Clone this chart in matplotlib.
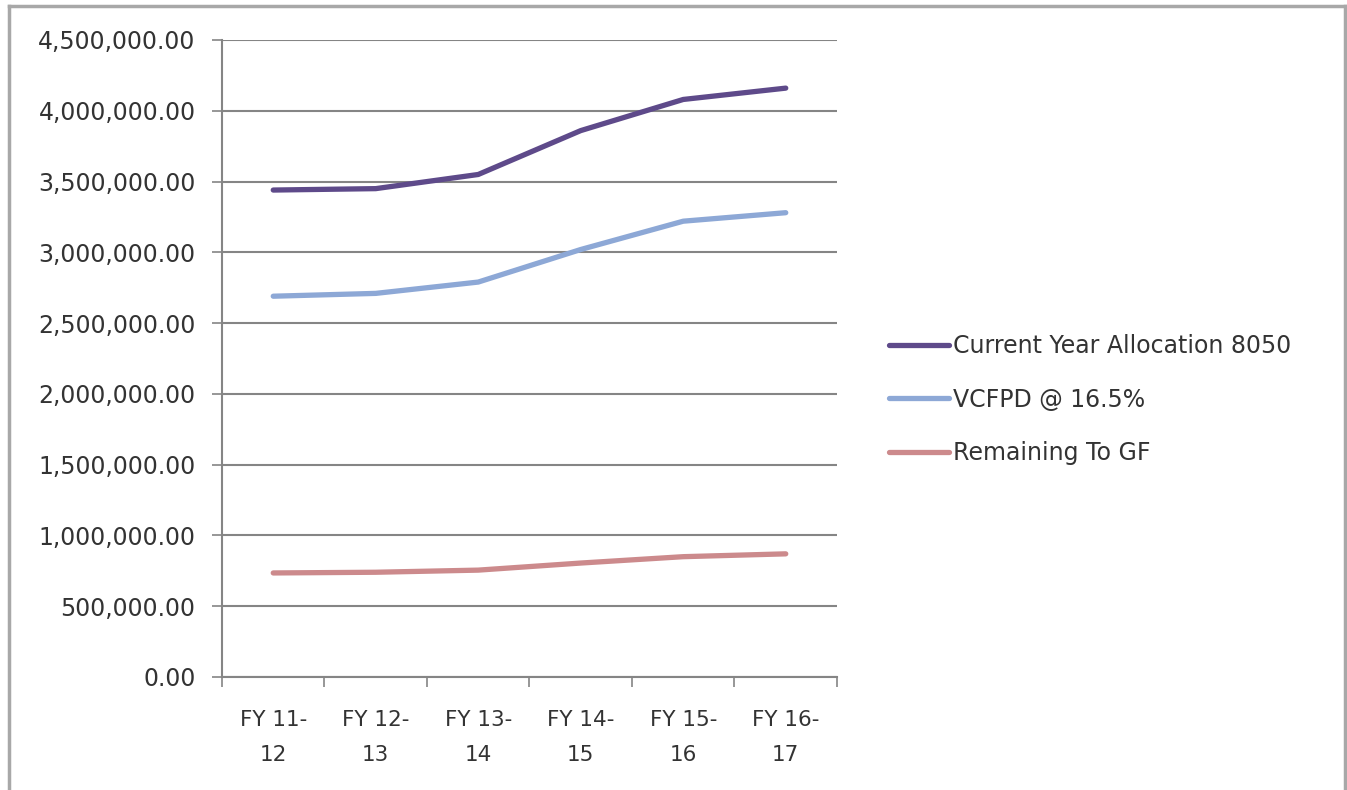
import matplotlib.pyplot as plt
from matplotlib.lines import Line2D
from matplotlib.ticker import FuncFormatter, MultipleLocator

# Fiscal years and the three series
years = ["FY 11-\n12", "FY 12-\n13", "FY 13-\n14", "FY 14-\n15", "FY 15-\n16", "FY 16-\n17"]
allocation = [3440000, 3450000, 3550000, 3860000, 4080000, 4160000]
vcfpd = [2690000, 2710000, 2790000, 3020000, 3220000, 3280000]
remaining = [735000, 740000, 755000, 805000, 850000, 870000]

series_names = ["Current Year Allocation 8050", "VCFPD @ 16.5%", "Remaining To GF"]
colors = ["#5E4A8A", "#8DA8D6", "#CC8A8C"]

plt.rcParams['font.family'] = ['DejaVu Sans']

fig = plt.figure(figsize=(13.47, 7.9), dpi=100)
ax = fig.add_axes([222 / 1347, 1 - 677 / 790, 615 / 1347, 637 / 790])

x = [i + 0.5 for i in range(len(years))]
handles = []
for vals, name, c in zip([allocation, vcfpd, remaining], series_names, colors):
    h, = ax.plot(x, vals, color=c, lw=3.8, solid_capstyle='round',
                 solid_joinstyle='round', label=name)
    handles.append(h)

ax.set_xlim(0, len(years))
ax.set_ylim(0, 4500000)
ax.yaxis.set_major_locator(MultipleLocator(500000))
ax.yaxis.set_major_formatter(FuncFormatter(lambda v, p: f"{v:,.2f}"))
ax.grid(axis='y', color='#858585', lw=1.5)
ax.set_axisbelow(True)

# category axis: ticks on the boundaries, labels at the centres
ax.set_xticks(range(len(years) + 1))
ax.set_xticklabels([])
ax.set_xticks(x, minor=True)
ax.set_xticklabels(years, minor=True, fontsize=15.5, color='#333333', linespacing=1.9)
ax.tick_params(axis='x', which='minor', length=0, pad=24)
ax.tick_params(axis='x', which='major', length=7, width=1.2, color='#858585', direction='out')
ax.tick_params(axis='y', length=7, width=1.2, color='#858585', labelsize=17,
               labelcolor='#333333', pad=12)

for side in ['top', 'right']:
    ax.spines[side].set_visible(False)
for side in ['left', 'bottom']:
    ax.spines[side].set_color('#858585')
    ax.spines[side].set_linewidth(1.5)

leg = fig.legend(handles=handles, loc='upper left',
                 bbox_to_anchor=(868 / 1347, 1 - 313 / 790),
                 frameon=False, fontsize=17, handlelength=2.55, handletextpad=0.15,
                 labelspacing=1.25, labelcolor='#333333')

# outer chart border (left, top, right)
bc = '#A8A8A8'
fig.add_artist(Line2D([9 / 1347, 9 / 1347], [0, 1 - 6 / 790], color=bc, lw=2.5,
                      transform=fig.transFigure))
fig.add_artist(Line2D([9 / 1347, 1345 / 1347], [1 - 6 / 790, 1 - 6 / 790], color=bc, lw=2.5,
                      transform=fig.transFigure))
fig.add_artist(Line2D([1345 / 1347, 1345 / 1347], [0, 1 - 6 / 790], color=bc, lw=2.5,
                      transform=fig.transFigure))

fig.savefig("out.png", dpi=100)
